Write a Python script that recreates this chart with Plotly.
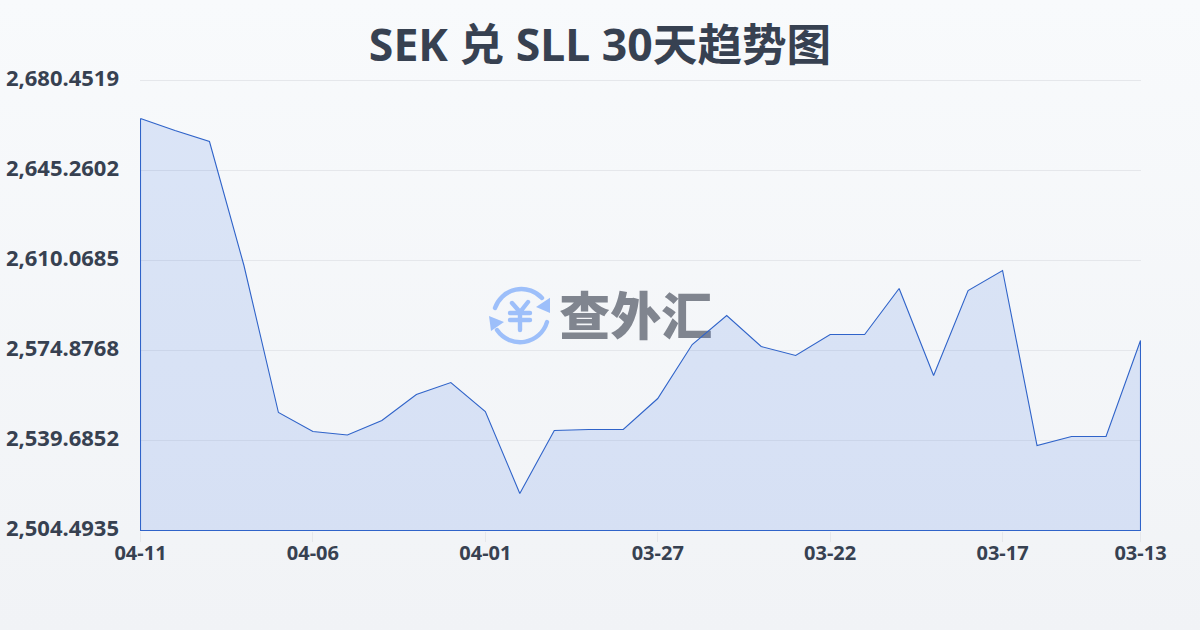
import base64
import plotly.graph_objects as go

title = "SEK 兑 SLL 30天趋势图"
watermark = "查外汇"
dates = ["04-11","04-10","04-09","04-08","04-07","04-06","04-05","04-04","04-03","04-02",
         "04-01","03-31","03-30","03-29","03-28","03-27","03-26","03-25","03-24","03-23",
         "03-22","03-21","03-20","03-19","03-18","03-17","03-16","03-15","03-14","03-13"]
rates = [2665.59,2660.90,2656.60,2608.11,2550.63,2543.20,2541.83,2547.50,2557.67,2562.36,
         2551.02,2518.96,2543.59,2543.98,2543.98,2556.10,2577.22,2588.56,2576.44,2572.92,
         2581.13,2581.13,2599.12,2565.10,2598.33,2606.16,2537.73,2541.25,2541.25,2578.78]
y_ticks = [2504.4935,2539.6852,2574.8768,2610.0685,2645.2602,2680.4519]
y_labels = ["2,504.4935","2,539.6852","2,574.8768","2,610.0685","2,645.2602","2,680.4519"]
x_tick_labels = ["04-11","04-06","04-01","03-27","03-22","03-17","03-13"]

idx = list(range(len(dates)))
x_ticks = [dates.index(d) for d in x_tick_labels]
y_min, y_max = y_ticks[0], y_ticks[-1]

INK = "#374151"
FONT = "Noto Sans, Noto Sans CJK SC, sans-serif"

def uri(svg):
    return "data:image/svg+xml;base64," + base64.b64encode(svg.encode()).decode()

bg = uri('<svg xmlns="http://www.w3.org/2000/svg" width="1200" height="630" preserveAspectRatio="none">'
         '<defs><linearGradient id="g" x1="0" y1="0" x2="0" y2="1"><stop offset="0" stop-color="#f8fafc"/>'
         '<stop offset="1" stop-color="#f1f3f6"/></linearGradient></defs>'
         '<rect width="1200" height="630" fill="url(#g)"/></svg>')
icon = uri('<svg xmlns="http://www.w3.org/2000/svg" width="64" height="64" viewBox="0 0 64 64">'
           '<g fill="none" stroke="#9dbffa" stroke-width="4.4" stroke-linecap="round">'
           '<path d="M9 25 A28 28 0 0 1 56 15"/><path d="M61 39 A28 28 0 0 1 11 47"/>'
           '<path d="M26 20 L34 29 L42 19 M24 30 H44 M24 37 H44 M34 29 V47"/></g>'
           '<path fill="#9dbffa" d="M65 14 L64 30 L50 24 Z M3 33 L5 48 L18 39 Z"/></svg>')

fig = go.Figure()
fig.add_trace(go.Scatter(x=[14.36], y=[2586.0], mode="text", text=[watermark], hoverinfo="skip",
                         textfont=dict(family="Noto Sans CJK SC", size=51, color="#80858f", weight=900)))
fig.add_trace(go.Scatter(x=idx + [idx[-1], idx[0], idx[0]], y=rates + [y_min, y_min, rates[0]],
                         mode="lines", fill="toself", line=dict(color="#2f63c9", width=1.1), cliponaxis=False,
                         fillcolor="rgba(50,105,225,0.14)", hoverinfo="skip"))

fig.update_layout(
    width=1200, height=630, autosize=False, showlegend=False,
    margin=dict(l=140, r=59, t=80, b=99),
    paper_bgcolor="#f5f7fa", plot_bgcolor="rgba(0,0,0,0)",
    font=dict(family=FONT, color=INK),
    title=dict(text=title, x=0.5, xanchor="center", y=0.928, yanchor="middle",
               font=dict(family=FONT, size=44.6, color="#374151", weight=700)),
    xaxis=dict(range=[idx[0] - 0.0145, idx[-1] + 0.0145], tickmode="array", tickvals=x_ticks, ticktext=x_tick_labels,
               showgrid=False, zeroline=False, showline=False, ticks="outside", ticklen=10, tickwidth=1,
               tickcolor="#e5e7eb", ticklabelstandoff=-6, tickfont=dict(size=20, color=INK, weight=700)),
    yaxis=dict(range=[y_min - 0.196, y_max + 0.196], tickmode="array", tickvals=y_ticks, ticktext=y_labels, automargin=False,
               showgrid=True, gridcolor="#e5e7eb", gridwidth=1, zeroline=False, showline=False,
               ticks="", ticklabelstandoff=20, ticklabelshift=-2, tickfont=dict(size=22, color=INK, weight=700)),
    shapes=[dict(type="line", xref="paper", x0=0, x1=1, yref="y", y0=y_max, y1=y_max,
                 line=dict(color="#e5e7eb", width=1), layer="below")],
    images=[
        dict(source=bg, xref="paper", yref="paper", x=-140/1001, y=1+80/451, sizex=1200/1001, sizey=630/451, xanchor="left",
             yanchor="top", sizing="stretch", layer="below"),
        dict(source=icon, xref="paper", yref="paper", x=(486-140)/1001, y=(531-283)/451, sizex=64/1001, sizey=64/451,
             xanchor="left", yanchor="top", sizing="stretch", layer="below"),
    ],
)
fig.write_html("out.html", config={"displayModeBar": False},
               post_script="document.body.style.margin='0';document.documentElement.style.overflow='hidden';")
